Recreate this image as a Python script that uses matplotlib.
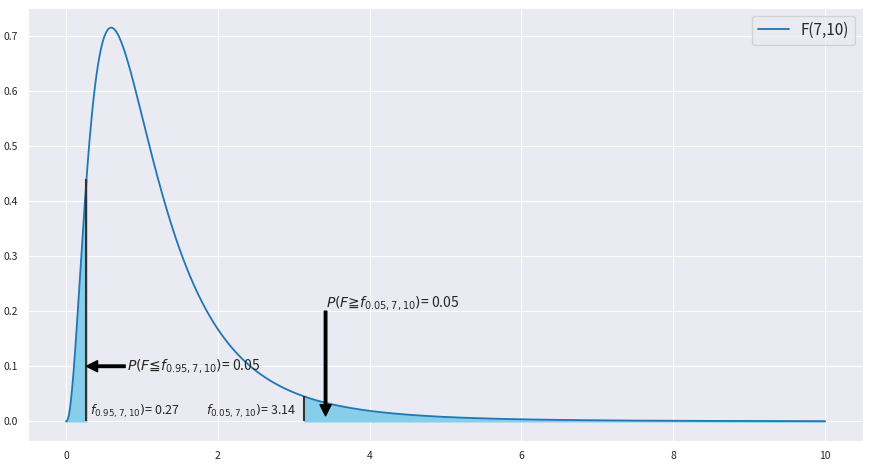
import math

import matplotlib
matplotlib.use("Agg")
import matplotlib.pyplot as plt
import numpy as np
import seaborn as sns

# distribution parameters and the quantiles shown on the chart
dfn, dfd = 7, 10
x_max = 10
f_low = 0.27    # f_{0.95,7,10}
f_high = 3.14   # f_{0.05,7,10}
alpha = 0.05


def f_pdf(x, d1, d2):
    x = np.asarray(x, dtype=float)
    logc = (math.lgamma((d1 + d2) / 2) - math.lgamma(d1 / 2) - math.lgamma(d2 / 2)
            + (d1 / 2) * math.log(d1 / d2))
    out = np.zeros_like(x)
    pos = x > 0
    xp = x[pos]
    out[pos] = np.exp(logc + (d1 / 2 - 1) * np.log(xp)
                      - ((d1 + d2) / 2) * np.log1p(d1 * xp / d2))
    return out


sns.set_style("darkgrid")
plt.rcParams["font.family"] = ["Noto Sans CJK KR", "DejaVu Sans"]
plt.rcParams["axes.unicode_minus"] = False

x = np.linspace(0, x_max, 1000)
y = f_pdf(x, dfn, dfd)

fig = plt.figure(figsize=(8.71, 4.65), dpi=100)
ax = fig.add_axes([28 / 871, 24 / 465, 835 / 871, 433 / 465])

ax.plot(x, y, color="#1f77b4", lw=1.3, label=f"F({dfn},{dfd})")

xl = np.linspace(0, f_low, 100)
ax.fill_between(xl, f_pdf(xl, dfn, dfd), color="skyblue")
xr = np.linspace(f_high, x_max, 400)
ax.fill_between(xr, f_pdf(xr, dfn, dfd), color="skyblue")

ax.vlines(f_low, 0, f_pdf([f_low], dfn, dfd)[0], color="#333333", lw=1.5)
ax.vlines(f_high, 0, f_pdf([f_high], dfn, dfd)[0], color="#333333", lw=1.5)

ax.annotate("", xy=(f_low, 0.1), xytext=(0.78, 0.1),
            arrowprops=dict(facecolor="black", edgecolor="black",
                            width=1.8, headwidth=8, headlength=8, shrink=0))
ax.text(0.8, 0.1, r"$P(F≦f_{0.95,7,10})$" + f"= {alpha}", fontsize=10,
        va="center", color="#262626")

ax.annotate("", xy=(3.42, 0.01), xytext=(3.42, 0.2),
            arrowprops=dict(facecolor="black", edgecolor="black",
                            width=1.8, headwidth=8, headlength=8, shrink=0))
ax.text(3.42, 0.215, r"$P(F≧f_{0.05,7,10})$" + f"= {alpha}", fontsize=10,
        va="center", color="#262626")

ax.text(f_low + 0.05, 0.018, r"$f_{0.95,7,10})$" + f"= {f_low}", fontsize=9,
        va="center", color="#262626")
ax.text(f_high - 1.3, 0.018, r"$f_{0.05,7,10})$" + f"= {f_high}", fontsize=9,
        va="center", color="#262626")

ax.tick_params(labelsize=7.5)
ax.legend(loc="upper right", fontsize=11)

fig.savefig("out.png", dpi=100)
